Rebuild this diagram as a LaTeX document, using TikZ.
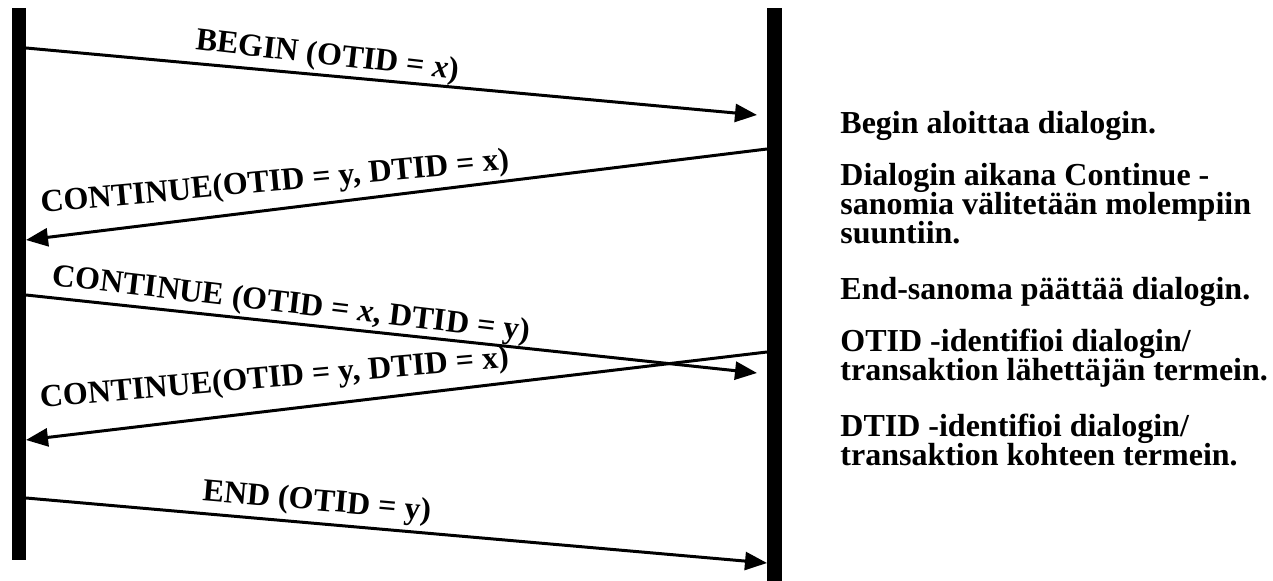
\documentclass[tikz,border=0pt]{standalone}
\usepackage{fontspec}
\setmainfont{Liberation Serif}
\usetikzlibrary{arrows.meta}

% tiivis riviväli selitysteksteille
\newcommand{\selitefont}{\bfseries\fontsize{16}{14.5}\selectfont\lineskiplimit=-20pt\relax}

\tikzset{
  sanoma/.style={line width=1.5pt, -{Triangle[length=11pt,width=9pt]}},
  nimi/.style={sloped, anchor=base, inner sep=0pt, font=\bfseries\fontsize{16}{14}\selectfont},
  selite/.style={anchor=base west, align=left, inner sep=0pt, font=\selitefont}
}

\begin{document}
\begin{tikzpicture}[x=0.5pt,y=-0.5pt]
  \useasboundingbox (0,0) rectangle (1273,581);

  % Pystypalkit
  \fill (12,8) rectangle (26,560);
  \fill (767,8) rectangle (782,581);

  % Sanomien päätepisteet
  \coordinate (a1) at (26,48);   \coordinate (b1) at (757,115);
  \coordinate (a2) at (767,149); \coordinate (b2) at (26,240);
  \coordinate (a3) at (26,295);  \coordinate (b3) at (757,373);
  \coordinate (a4) at (767,352); \coordinate (b4) at (26,440);
  \coordinate (a5) at (26,498);  \coordinate (b5) at (767,563);

  % Sanomat
  \draw[sanoma] (a1) -- node[nimi, pos=.41, yshift=5.5pt, rotate=-1.3] (m1) {BEGIN (OTID = \textit{x})} (b1);
  \draw[sanoma] (a2) -- node[nimi, pos=.66, yshift=9pt, rotate=-1.7] (m2) {CONTINUE(OTID = y, DTID = x)} (b2);
  \draw[sanoma] (a3) -- node[nimi, pos=.36, yshift=5pt, rotate=-0.6] (m3) {CONTINUE (OTID = \textit{x}, DTID = y)} (b3);
  \draw[sanoma] (a4) -- node[nimi, pos=.66, yshift=11.5pt, rotate=-1.8] (m4) {CONTINUE(OTID = y, DTID = x)} (b4);
  \draw[sanoma] (a5) -- node[nimi, pos=.39, yshift=6.5pt] (m5) {END (OTID = y)} (b5);

  % Selitykset (base = viimeisen rivin perusviiva)
  \node[selite] (s1) at (840,134) {Begin aloittaa dialogin.};
  \node[selite] (s2) at (840,244) {Dialogin aikana Continue -\\sanomia välitetään molempiin\\suuntiin.};
  \node[selite] (s3) at (840,300) {End-sanoma päättää dialogin.};
  \node[selite] (s4) at (840,381) {OTID -identifioi dialogin/\\transaktion lähettäjän termein.};
  \node[selite] (s5) at (840,466) {DTID -identifioi dialogin/\\transaktion kohteen termein.};
\end{tikzpicture}
\end{document}
